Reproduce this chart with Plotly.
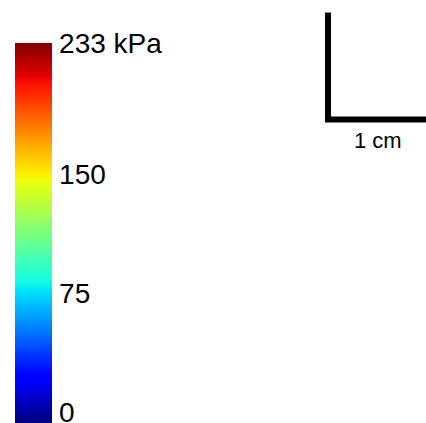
import numpy as np
import plotly.graph_objects as go

# ---- data ----
pressure_min_kpa = -7          # colour-scale lower end (bar runs slightly below 0)
pressure_max_kpa = 233
tick_values = [0, 75, 150, 233]
tick_labels = ["0", "75", "150", "233 kPa"]
scale_bar_cm = 1.0
scale_bar_label = "1 cm"

# ---- jet colormap (matplotlib definition) ----
red_pts = [(0, 0), (0.35, 0), (0.66, 1), (0.89, 1), (1, 0.5)]
green_pts = [(0, 0), (0.125, 0), (0.375, 1), (0.64, 1), (0.91, 0), (1, 0)]
blue_pts = [(0, 0.5), (0.11, 1), (0.34, 1), (0.65, 0), (1, 0)]
stops = sorted(set([p[0] for p in red_pts + green_pts + blue_pts]))

def ch(pts, s):
    xs, ys = zip(*pts)
    return float(np.interp(s, xs, ys))

jet = [[s, "rgb(%d,%d,%d)" % (round(255 * ch(red_pts, s)),
                              round(255 * ch(green_pts, s)),
                              round(255 * ch(blue_pts, s)))] for s in stops]

W, H = 426, 423
px_per_cm = 107
origin_px = (328, 119.5)  # scale bar corner (pixels from top-left)

x0 = origin_px[0] / px_per_cm
y0 = (H - origin_px[1]) / px_per_cm

fig = go.Figure()

# colour bar carrier (invisible markers)
fig.add_trace(go.Scatter(
    x=[-10, -10], y=[-10, -10], mode="markers",
    marker=dict(size=1, opacity=0,
                color=[pressure_min_kpa, pressure_max_kpa],
                cmin=pressure_min_kpa, cmax=pressure_max_kpa,
                colorscale=jet, showscale=True,
                colorbar=dict(
                    thickness=37, thicknessmode="pixels",
                    len=380, lenmode="pixels",
                    x=15 / W, xanchor="left", xpad=0,
                    y=1 - 43 / H, yanchor="top", ypad=0,
                    outlinewidth=0,
                    tickvals=tick_values, ticktext=tick_labels,
                    ticks="outside", ticklen=2, tickcolor="rgba(0,0,0,0)",
                    ticklabeloverflow="allow",
                    tickfont=dict(family="Liberation Sans, Arial", size=28, color="black"),
                )),
    hoverinfo="skip", showlegend=False))

# scale bar
fig.add_trace(go.Scatter(
    x=[x0, x0, x0 + scale_bar_cm],
    y=[y0 + scale_bar_cm, y0, y0],
    mode="lines", line=dict(color="black", width=6),
    hoverinfo="skip", showlegend=False))

fig.add_annotation(
    x=x0 + scale_bar_cm / 2 - 0.03, y=y0, xref="x", yref="y",
    text=scale_bar_label, showarrow=False, yanchor="top", yshift=-6,
    font=dict(family="Liberation Sans, Arial", size=22, color="black"))

fig.update_xaxes(range=[0, W / px_per_cm], visible=False, domain=[0, 1])
fig.update_yaxes(range=[0, H / px_per_cm], visible=False, domain=[0, 1])

fig.update_layout(
    width=W, height=H,
    margin=dict(l=0, r=0, t=0, b=0, autoexpand=False),
    paper_bgcolor="white", plot_bgcolor="white",
    showlegend=False,
)

fig.write_html(
    "out.html",
    config={"displayModeBar": False},
    post_script="document.body.style.margin='0';document.body.style.overflow='hidden';",
)
